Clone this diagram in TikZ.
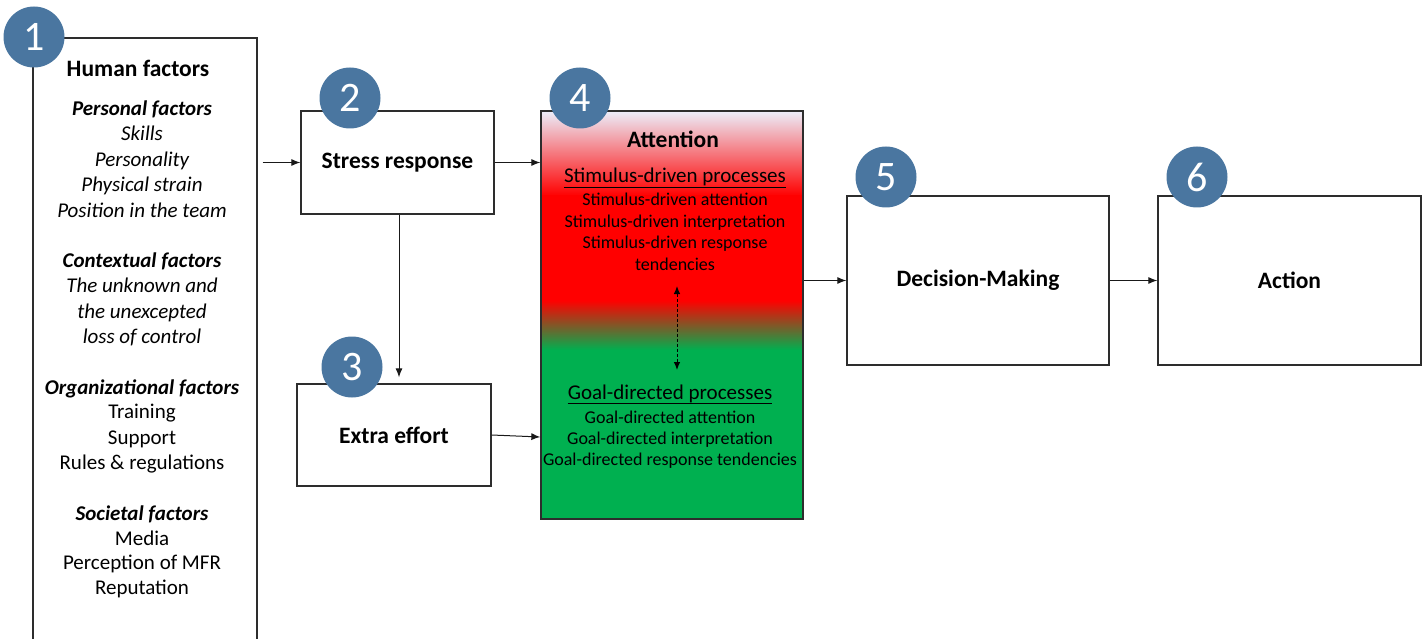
\documentclass[tikz,border=0pt]{standalone}
\usepackage{fontspec}
\setmainfont{Carlito}
\usetikzlibrary{arrows.meta}
\definecolor{numblue}{RGB}{74,118,160}
\definecolor{boxline}{RGB}{45,45,45}
\definecolor{attred}{RGB}{255,0,0}
\definecolor{attgreen}{RGB}{0,176,80}
\definecolor{atttop}{RGB}{236,238,250}
\begin{document}
\begin{tikzpicture}[x=1pt,y=-1pt,
  stepbox/.style={draw=boxline,line width=1.3pt,inner sep=0pt,align=center,font=\fontsize{23.5}{27}\selectfont\bfseries},
  numdot/.style={circle,fill=numblue,text=white,minimum size=61pt,inner sep=0pt,font=\fontsize{42}{42}\selectfont},
  arr/.style={draw=black!90,line width=1pt,-{Latex[length=9pt,width=7pt]}},
  dashedarr/.style={draw=black,line width=1pt,dashed,dash pattern=on 3pt off 2pt,{Latex[length=8pt,width=6.5pt]}-{Latex[length=8pt,width=6.5pt]}},
  hftext/.style={anchor=base,inner sep=0pt,font=\fontsize{21}{25}\selectfont},
  atttext/.style={anchor=base,inner sep=0pt,font=\fontsize{18}{21}\selectfont},
  atthead/.style={anchor=base,inner sep=0pt,font=\fontsize{21}{25}\selectfont}]
\useasboundingbox (0,0) rectangle (1425,639);

% attention box gradient
\shade[top color=atttop,bottom color=attred] (541,111) rectangle (803,196);
\fill[attred] (541,195.5) rectangle (803,301);
\shade[top color=attred,bottom color=attgreen] (541,300.5) rectangle (803,350);
\fill[attgreen] (541,349.5) rectangle (803,519);

% boxes
\node[stepbox,minimum width=224pt,minimum height=620pt] (box1) at (145,348) {};
\node[stepbox,minimum width=193pt,minimum height=103pt] (box2) at (397.5,162.5) {Stress response};
\node[stepbox,minimum width=194pt,minimum height=102pt] (box3) at (394,435) {Extra effort};
\node[stepbox,minimum width=262pt,minimum height=408pt] (box4) at (672,315) {};
\node[stepbox,minimum width=262pt,minimum height=169pt] (box5) at (978,280.5) {Decision-Making};
\node[stepbox,minimum width=263pt,minimum height=169pt] (box6) at (1289.5,280.5) {Action};

% human factors text
\node[hftext,font=\fontsize{23.5}{27}\selectfont\bfseries] (hf0) at (138,77) {Human factors};
\foreach \yy/\tt [count=\i] in {
  116/{\bfseries\itshape Personal factors},
  141/{\itshape Skills},
  167/{\itshape Personality},
  192/{\itshape Physical strain},
  218/{\itshape Position in the team},
  268/{\bfseries\itshape Contextual factors},
  293/{\itshape The unknown and},
  318/{\itshape the unexcepted},
  343/{\itshape loss of control},
  394/{\bfseries\itshape Organizational factors},
  418/{Training},
  444/{Support},
  469/{Rules \& regulations},
  520/{\bfseries\itshape Societal factors},
  545/{Media},
  569/{Perception of MFR},
  594/{Reputation}}
  \node[hftext] (hf\i) at (142,\yy) {\tt};

% attention text
\node[hftext,font=\fontsize{23.5}{27}\selectfont\bfseries] (atth) at (673,148) {Attention};
\node[atthead] (sdp) at (675,183) {Stimulus-driven processes};
\draw[line width=0.9pt] ([yshift=-4pt]sdp.base west) -- ([yshift=-4pt]sdp.base east);
\node[atttext] (sd1) at (675,206) {Stimulus-driven attention};
\node[atttext] (sd2) at (675,228) {Stimulus-driven interpretation};
\node[atttext] (sd3) at (675,249) {Stimulus-driven response};
\node[atttext] (sd4) at (675,270) {tendencies};
\node[atthead] (gdp) at (670,399) {Goal-directed processes};
\draw[line width=0.9pt] ([yshift=-4pt]gdp.base west) -- ([yshift=-4pt]gdp.base east);
\node[atttext] (gd1) at (670,423) {Goal-directed attention};
\node[atttext] (gd2) at (670,444) {Goal-directed interpretation};
\node[atttext] (gd3) at (670,465) {Goal-directed response tendencies};

% number dots
\node[numdot] (n1) at (34,37) {1};
\node[numdot] (n2) at (350,98) {2};
\node[numdot] (n3) at (352,367) {3};
\node[numdot] (n4) at (580,98) {4};
\node[numdot] (n5) at (886,177) {5};
\node[numdot] (n6) at (1197,177) {6};

% connectors
\draw[arr] ([xshift=5pt]box1.east |- box2.west) -- (box2.west);
\draw[arr] (box2.east) -- (box4.west |- box2.east);
\draw[arr] ([xshift=1.5pt]box2.south) -- ([xshift=1.5pt,yshift=6pt]box2.south |- box3.north);
\draw[arr] (box3.east) -- ([yshift=-2pt]box4.west |- box3.east);
\draw[arr] (box4.east |- box5.west) -- (box5.west);
\draw[arr] (box5.east) -- (box6.west);
\coordinate (dtop) at (677,286);
\coordinate (dbot) at (677,370);
\draw[dashedarr] (dtop) -- (dbot);
\end{tikzpicture}
\end{document}
